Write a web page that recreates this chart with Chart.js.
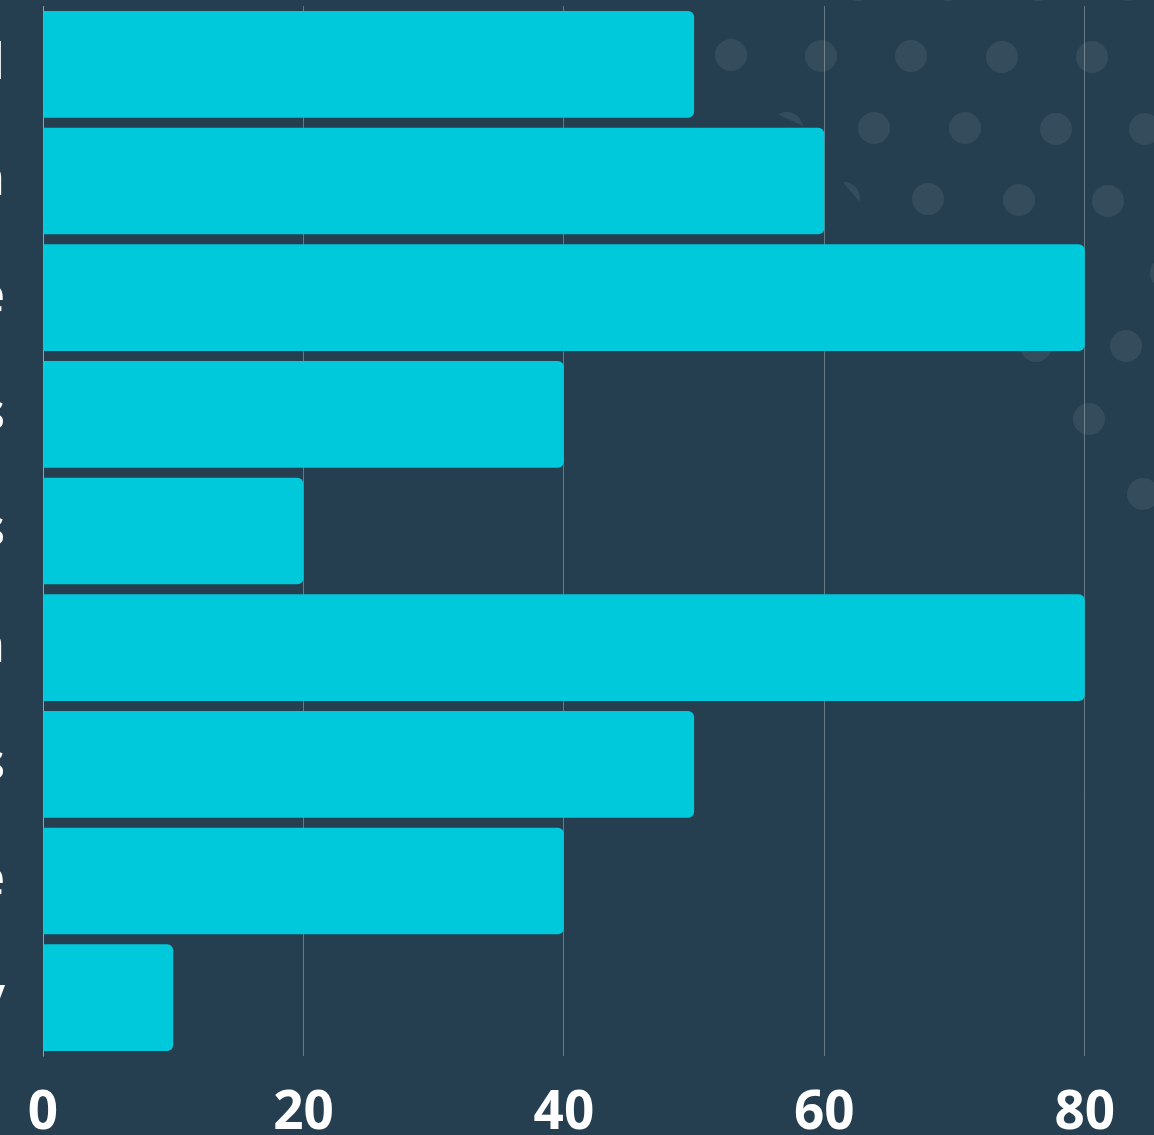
<!DOCTYPE html>
<html>
<head>
<meta charset="utf-8">
<script src="https://cdn.jsdelivr.net/npm/chart.js@4.4.1/dist/chart.umd.min.js"></script>
<style>
  html, body {
    margin: 0;
    padding: 0;
    width: 1154px;
    height: 1135px;
    overflow: hidden;
    background: #263f50;
  }
  #dots {
    position: absolute;
    left: 0;
    top: 0;
  }
  /* the chart is wider than the page, so the category names sit off the left edge */
  #wrap {
    position: absolute;
    left: -400px;
    top: 0;
    width: 1615px;
    height: 1135px;
  }
</style>
</head>
<body>
<canvas id="dots" width="1154" height="1135"></canvas>
<div id="wrap"><canvas id="chart"></canvas></div>
<script>
const categories = ['Technical', 'Communication', 'Creative', 'Analytics', 'Sales', 'Design', 'Operations', 'Finance', 'Strategy'];
const scores = [50, 60, 80, 40, 20, 80, 50, 40, 10];
const xMax = 90;
const xStep = 20;

const barColor = '#00c9db';
const gridColor = 'rgba(255, 255, 255, 0.3)';

// decorative dot pattern in the top right corner
const dotCenters = [
  [858, -15], [948, -15], [1038, -15], [1128, -15],
  [731, 55], [821, 56], [911, 56], [1002, 57], [1092, 57],
  [787, 128], [874, 128], [965, 128], [1056, 129], [1145, 129],
  [844, 198], [928, 199], [1019, 200], [1108, 201],
  [1166, 273],
  [1036, 346], [1126, 346],
  [1089, 419],
  [1143, 494]
];
// the pattern fades out along this edge
const dotArea = [
  [690, -40], [1200, -40], [1200, 620], [1095, 492], [1045, 418],
  [990, 347], [858, 200], [846, 186], [803, 126], [775, 113], [690, 100]
];

function drawDots() {
  const ctx = document.getElementById('dots').getContext('2d');
  ctx.save();
  ctx.beginPath();
  dotArea.forEach(([x, y], i) => i ? ctx.lineTo(x, y) : ctx.moveTo(x, y));
  ctx.closePath();
  ctx.clip();
  ctx.fillStyle = 'rgba(255, 255, 255, 0.07)';
  dotCenters.forEach(([x, y]) => {
    ctx.beginPath();
    ctx.arc(x, y, 16, 0, Math.PI * 2);
    ctx.fill();
  });
  ctx.restore();
}
drawDots();

new Chart(document.getElementById('chart'), {
  type: 'bar',
  data: {
    labels: categories,
    datasets: [{
      data: scores,
      backgroundColor: barColor,
      borderWidth: 0,
      borderRadius: 6,
      barPercentage: 1,
      categoryPercentage: 0.914
    }]
  },
  options: {
    indexAxis: 'y',
    responsive: true,
    maintainAspectRatio: false,
    animation: false,
    layout: { padding: { top: 6, right: 0, bottom: 0, left: 0 } },
    plugins: {
      legend: { display: false },
      tooltip: { enabled: false }
    },
    scales: {
      x: {
        min: 0,
        max: xMax,
        afterFit: (scale) => {
          scale.height = 79;
          scale.paddingLeft = 0;
          scale.paddingRight = 0;
        },
        grid: { color: gridColor, lineWidth: 1, drawTicks: false },
        border: { display: false },
        ticks: {
          stepSize: xStep,
          includeBounds: false,
          padding: 26,
          color: '#ffffff',
          font: { family: 'Open Sans', size: 53, weight: 'bold' }
        }
      },
      y: {
        afterFit: (scale) => {
          scale.width = 443;
          scale.paddingTop = 0;
          scale.paddingBottom = 0;
        },
        grid: { display: false, drawTicks: false },
        border: { display: true, color: gridColor, width: 1 },
        ticks: {
          padding: 38,
          color: '#ffffff',
          font: { family: 'Open Sans', size: 50, weight: '600' }
        }
      }
    }
  }
});
</script>
</body>
</html>
